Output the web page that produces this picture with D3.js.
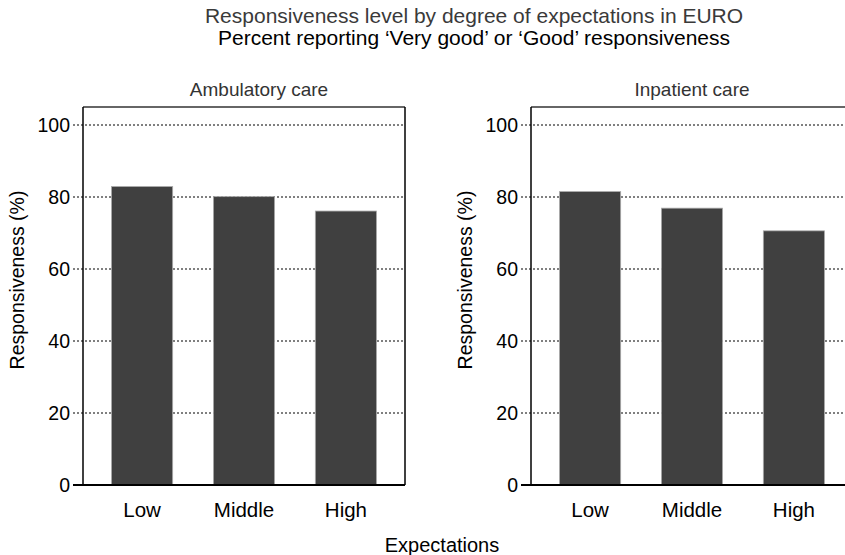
<!DOCTYPE html>
<html>
<head>
<meta charset="utf-8">
<script src="https://cdn.jsdelivr.net/npm/d3@7"></script>
<style>
  body { margin: 0; background: #fff; }
  text { font-family: "Liberation Sans", Arial, sans-serif; }
</style>
</head>
<body>
<script>
const width = 845, height = 555;

const categories = ["Low", "Middle", "High"];
const panelTitles = ["Ambulatory care", "Inpatient care"];
const ambulatory = [82.9, 80.1, 76.1];
const inpatient = [81.5, 76.9, 70.6];
const yTicks = [0, 20, 40, 60, 80, 100];

const panels = [
  {title: panelTitles[0], values: ambulatory, left: 83, titleX: 176},
  {title: panelTitles[1], values: inpatient, left: 531, titleX: 161}
];

const plotW = 322;
const plotTop = 107, plotBottom = 485;

let svg = d3.select("body")
            .append("svg")
            .attr("width", width)
            .attr("height", height);

// main titles
svg.append("text")
   .attr("x", 474).attr("y", 23)
   .attr("text-anchor", "middle")
   .attr("font-size", 21)
   .attr("fill", "#3a3a3a")
   .text("Responsiveness level by degree of expectations in EURO");
svg.append("text")
   .attr("x", 474).attr("y", 45)
   .attr("text-anchor", "middle")
   .attr("font-size", 21)
   .attr("fill", "#000")
   .text("Percent reporting \u2018Very good\u2019 or \u2018Good\u2019 responsiveness");

let xScale = d3.scaleBand()
    .domain(categories)
    .range([0, plotW])
    .paddingInner(0.4)
    .paddingOuter(0.28);

let yScale = d3.scaleLinear()
    .domain([0, 105])
    .range([plotBottom, plotTop]);

panels.forEach(p => {
    let g = svg.append("g")
        .attr("transform", "translate(" + p.left + ",0)");

    // panel title
    g.append("text")
     .attr("x", p.titleX).attr("y", 96)
     .attr("text-anchor", "middle")
     .attr("font-size", 19)
     .attr("fill", "#333")
     .text(p.title);

    // gridlines + ticks (dotted, extend left as tick marks)
    g.selectAll(".grid")
     .data(yTicks.filter(t => t > 0))
     .enter()
     .append("line")
     .attr("x1", -10).attr("x2", plotW)
     .attr("y1", d => yScale(d)).attr("y2", d => yScale(d))
     .attr("stroke", "#000")
     .attr("stroke-width", 1)
     .attr("stroke-dasharray", "2,2");

    // y axis labels
    let yAxis = d3.axisLeft(yScale).tickValues(yTicks).tickSize(0).tickPadding(13);
    let ya = g.append("g").call(yAxis);
    ya.select(".domain").remove();
    ya.selectAll("text")
      .attr("font-size", 19.5)
      .attr("font-family", "Liberation Sans, Arial, sans-serif")
      .attr("fill", "#000");

    // bars
    g.selectAll(".bar")
     .data(p.values)
     .enter()
     .append("rect")
     .attr("x", (d, i) => xScale(categories[i]))
     .attr("width", xScale.bandwidth())
     .attr("y", d => yScale(d))
     .attr("height", d => plotBottom - yScale(d))
     .attr("fill", "#404040")
     .attr("stroke", "#aaa")
     .attr("stroke-width", 0.8);

    // frame
    g.append("line")
     .attr("x1", 0).attr("x2", plotW)
     .attr("y1", plotTop).attr("y2", plotTop)
     .attr("stroke", "#333").attr("stroke-width", 1.5);
    g.append("line")
     .attr("x1", 0).attr("x2", 0)
     .attr("y1", plotTop).attr("y2", plotBottom)
     .attr("stroke", "#000").attr("stroke-width", 1.5);
    g.append("line")
     .attr("x1", plotW).attr("x2", plotW)
     .attr("y1", plotTop).attr("y2", plotBottom)
     .attr("stroke", "#000").attr("stroke-width", 1.5);
    g.append("line")
     .attr("x1", -10).attr("x2", plotW)
     .attr("y1", plotBottom).attr("y2", plotBottom)
     .attr("stroke", "#000").attr("stroke-width", 2);

    // category labels
    let xa = g.append("g")
        .attr("transform", "translate(0," + plotBottom + ")")
        .call(d3.axisBottom(xScale).tickSize(0).tickPadding(17));
    xa.select(".domain").remove();
    xa.selectAll("text")
      .attr("font-size", 20.5)
      .attr("font-family", "Liberation Sans, Arial, sans-serif")
      .attr("fill", "#000");

    // y axis title
    g.append("text")
     .attr("transform", "rotate(-90)")
     .attr("x", -280)
     .attr("y", -59)
     .attr("text-anchor", "middle")
     .attr("font-size", 19.5)
     .attr("fill", "#000")
     .text("Responsiveness (%)");
});

// x axis title
svg.append("text")
   .attr("x", 442).attr("y", 552)
   .attr("text-anchor", "middle")
   .attr("font-size", 20)
   .attr("fill", "#000")
   .text("Expectations");
</script>
</body>
</html>
